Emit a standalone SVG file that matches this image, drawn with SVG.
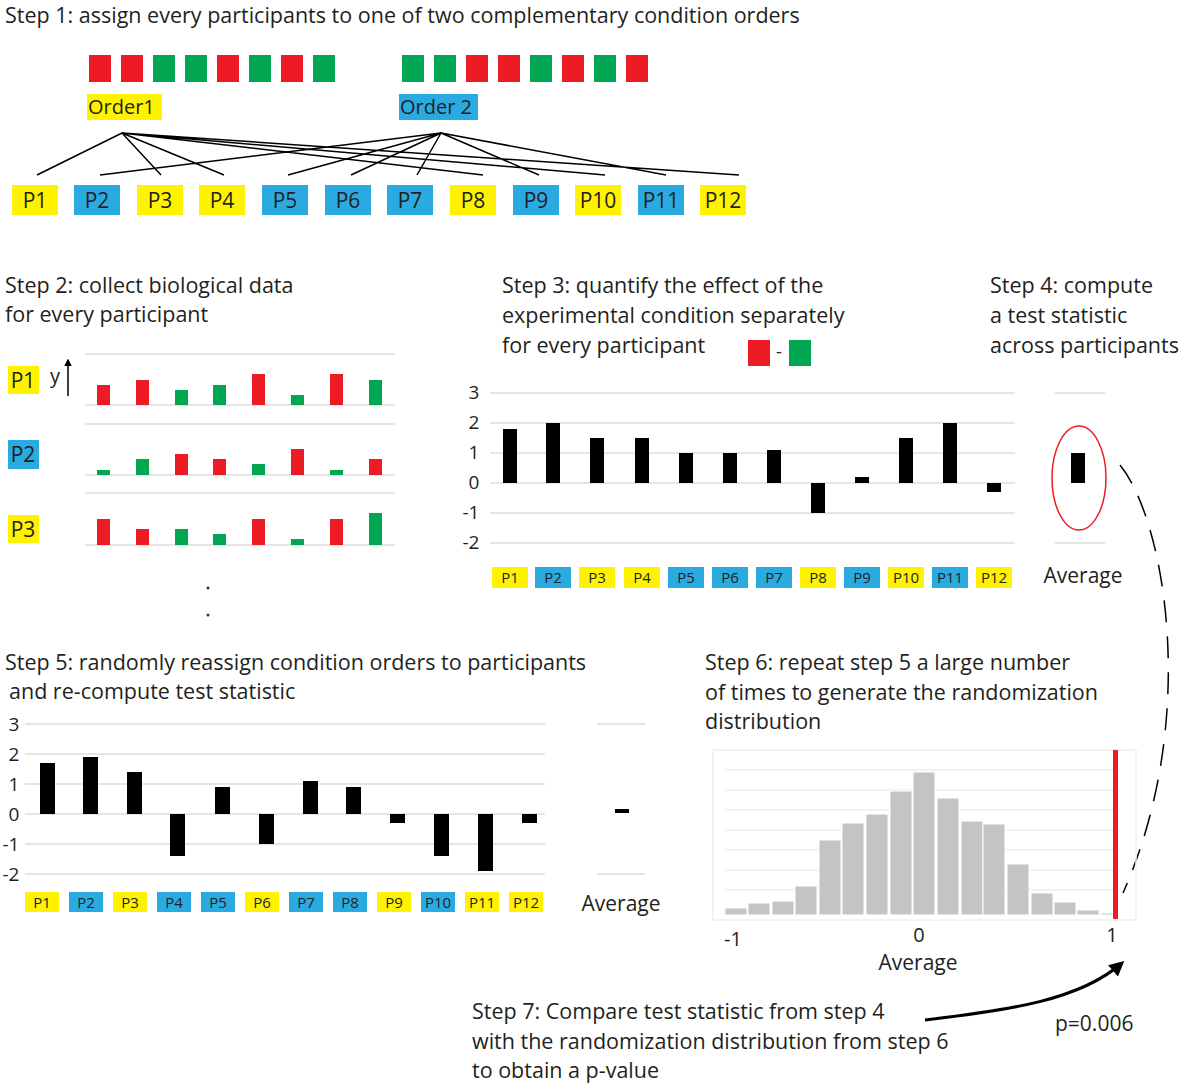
<svg xmlns="http://www.w3.org/2000/svg" width="1182" height="1086" viewBox="0 0 1182 1086">
<style>
text{font-family:"Open Sans","Liberation Sans",sans-serif;fill:#231f20}
.h{font-size:21.5px}
.r{fill:#ed1c24}.g{fill:#00a651}.y{fill:#fff200}.b{fill:#29abe2}
.k{fill:#000}
.gr{stroke:#ddd;stroke-width:1.5}
.pl{font-size:21px;text-anchor:middle}
.sl{font-size:15px;text-anchor:middle}
.ax{font-size:19px;text-anchor:middle}
.ln{stroke:#000;stroke-width:1.8;fill:none}
.hb{fill:#c4c4c4;stroke:#fff;stroke-width:1}
</style>
<defs><marker id="ah" viewBox="0 0 10 10" refX="8" refY="5" markerWidth="5" markerHeight="5" orient="auto"><path d="M0,0L10,5L0,10z" fill="#000"/></marker></defs>
<rect width="1182" height="1086" fill="#fff"/>

<g id="step1">
<text class="h" x="5" y="23">Step 1: assign every participants to one of two complementary condition orders</text>
<rect class="r" x="89" y="55" width="22" height="27"/><rect class="r" x="121" y="55" width="22" height="27"/><rect class="g" x="153" y="55" width="22" height="27"/><rect class="g" x="185" y="55" width="22" height="27"/><rect class="r" x="217" y="55" width="22" height="27"/><rect class="g" x="249" y="55" width="22" height="27"/><rect class="r" x="281" y="55" width="22" height="27"/><rect class="g" x="313" y="55" width="22" height="27"/>
<rect class="g" x="402" y="55" width="22" height="27"/><rect class="g" x="434" y="55" width="22" height="27"/><rect class="r" x="466" y="55" width="22" height="27"/><rect class="r" x="498" y="55" width="22" height="27"/><rect class="g" x="530" y="55" width="22" height="27"/><rect class="r" x="562" y="55" width="22" height="27"/><rect class="g" x="594" y="55" width="22" height="27"/><rect class="r" x="626" y="55" width="22" height="27"/>
<rect class="y" x="87" y="94" width="75" height="26"/><text x="88" y="114" style="font-size:20px">Order1</text>
<rect class="b" x="399" y="94" width="79" height="26"/><text x="400" y="114" style="font-size:20px">Order 2</text>
</g>
<g id="connectors">
<path class="ln" style="stroke-width:1.5" d="M122,133L37,175M122,133L161,175M122,133L224,175M122,133L483,175M122,133L605,175M122,133L739,175M441,133L100,175M441,133L288,175M441,133L351,175M441,133L417,175M441,133L539,175M441,133L666,175"/>
<path d="M1120,465C1165,520 1200,720 1123,893" fill="none" stroke="#000" stroke-width="1.5" stroke-dasharray="22,14"/>
<path d="M925,1020C1010,1010 1080,1000 1122,963" fill="none" stroke="#000" stroke-width="3" marker-end="url(#ah)"/>
</g>
<g id="plabels">
<rect class="y" x="12" y="185" width="46" height="30"/><text class="pl" x="35" y="208">P1</text>
<rect class="b" x="74" y="185" width="46" height="30"/><text class="pl" x="97" y="208">P2</text>
<rect class="y" x="137" y="185" width="46" height="30"/><text class="pl" x="160" y="208">P3</text>
<rect class="y" x="199" y="185" width="46" height="30"/><text class="pl" x="222" y="208">P4</text>
<rect class="b" x="262" y="185" width="46" height="30"/><text class="pl" x="285" y="208">P5</text>
<rect class="b" x="325" y="185" width="46" height="30"/><text class="pl" x="348" y="208">P6</text>
<rect class="b" x="387" y="185" width="46" height="30"/><text class="pl" x="410" y="208">P7</text>
<rect class="y" x="450" y="185" width="46" height="30"/><text class="pl" x="473" y="208">P8</text>
<rect class="b" x="513" y="185" width="46" height="30"/><text class="pl" x="536" y="208">P9</text>
<rect class="y" x="575" y="185" width="46" height="30"/><text class="pl" x="598" y="208">P10</text>
<rect class="b" x="638" y="185" width="46" height="30"/><text class="pl" x="661" y="208">P11</text>
<rect class="y" x="700" y="185" width="46" height="30"/><text class="pl" x="723" y="208">P12</text>
</g>

<g id="step2">
<text class="h" x="5" y="293">Step 2: collect biological data</text>
<text class="h" x="5" y="322">for every participant</text>
<path class="gr" d="M85,354H395M85,405H395M85,424H395M85,475H395M85,493H395M85,545H395"/>
<rect class="y" x="8" y="366" width="31" height="28"/><text class="pl" x="23" y="388">P1</text>
<rect class="b" x="8" y="440" width="31" height="29"/><text class="pl" x="23" y="462">P2</text>
<rect class="y" x="8" y="515" width="31" height="28"/><text class="pl" x="23" y="537">P3</text>
<text x="50" y="383" style="font-size:20px">y</text>
<path d="M68,396V360" stroke="#000" stroke-width="1.5" marker-end="url(#ah)"/>
<g>
<rect class="r" x="97" y="385" width="13" height="20"/><rect class="r" x="136" y="380" width="13" height="25"/><rect class="g" x="175" y="390" width="13" height="15"/><rect class="g" x="213" y="385" width="13" height="20"/><rect class="r" x="252" y="374" width="13" height="31"/><rect class="g" x="291" y="395" width="13" height="10"/><rect class="r" x="330" y="374" width="13" height="31"/><rect class="g" x="369" y="380" width="13" height="25"/>
<rect class="g" x="97" y="470" width="13" height="5"/><rect class="g" x="136" y="459" width="13" height="16"/><rect class="r" x="175" y="454" width="13" height="21"/><rect class="r" x="213" y="459" width="13" height="16"/><rect class="g" x="252" y="464" width="13" height="11"/><rect class="r" x="291" y="449" width="13" height="26"/><rect class="g" x="330" y="470" width="13" height="5"/><rect class="r" x="369" y="459" width="13" height="16"/>
<rect class="r" x="97" y="519" width="13" height="26"/><rect class="r" x="136" y="529" width="13" height="16"/><rect class="g" x="175" y="529" width="13" height="16"/><rect class="g" x="213" y="534" width="13" height="11"/><rect class="r" x="252" y="519" width="13" height="26"/><rect class="g" x="291" y="539" width="13" height="6"/><rect class="r" x="330" y="519" width="13" height="26"/><rect class="g" x="369" y="513" width="13" height="32"/>
</g>
<circle cx="208" cy="588" r="1.5" fill="#333"/><circle cx="208" cy="615" r="1.5" fill="#333"/>
</g>

<g id="step3">
<text class="h" x="502" y="293">Step 3: quantify the effect of the</text>
<text class="h" x="502" y="323">experimental condition separately</text>
<text class="h" x="502" y="353">for every participant</text>
<rect class="r" x="748" y="340" width="22" height="26"/><text x="779" y="358" style="font-size:18px;text-anchor:middle">-</text><rect class="g" x="789" y="340" width="22" height="26"/>
<path class="gr" d="M490,393H1015M490,423H1015M490,453H1015M490,483H1015M490,513H1015M490,543H1015"/>
<g class="ax"><text x="474" y="399">3</text><text x="474" y="429">2</text><text x="474" y="459">1</text><text x="474" y="489">0</text><text x="471" y="519">-1</text><text x="471" y="549">-2</text></g>
<g class="k">
<rect x="503" y="429" width="14" height="54"/><rect x="546" y="423" width="14" height="60"/><rect x="590" y="438" width="14" height="45"/><rect x="635" y="438" width="14" height="45"/><rect x="679" y="453" width="14" height="30"/><rect x="723" y="453" width="14" height="30"/><rect x="767" y="450" width="14" height="33"/><rect x="811" y="483" width="14" height="30"/><rect x="855" y="477" width="14" height="6"/><rect x="899" y="438" width="14" height="45"/><rect x="943" y="423" width="14" height="60"/><rect x="987" y="483" width="14" height="9"/>
</g>
<g>
<rect class="y" x="492" y="567" width="36" height="21"/><text class="sl" x="510" y="583">P1</text>
<rect class="b" x="535" y="567" width="36" height="21"/><text class="sl" x="553" y="583">P2</text>
<rect class="y" x="579" y="567" width="36" height="21"/><text class="sl" x="597" y="583">P3</text>
<rect class="y" x="624" y="567" width="36" height="21"/><text class="sl" x="642" y="583">P4</text>
<rect class="b" x="668" y="567" width="36" height="21"/><text class="sl" x="686" y="583">P5</text>
<rect class="b" x="712" y="567" width="36" height="21"/><text class="sl" x="730" y="583">P6</text>
<rect class="b" x="756" y="567" width="36" height="21"/><text class="sl" x="774" y="583">P7</text>
<rect class="y" x="800" y="567" width="36" height="21"/><text class="sl" x="818" y="583">P8</text>
<rect class="b" x="844" y="567" width="36" height="21"/><text class="sl" x="862" y="583">P9</text>
<rect class="y" x="888" y="567" width="36" height="21"/><text class="sl" x="906" y="583">P10</text>
<rect class="b" x="932" y="567" width="36" height="21"/><text class="sl" x="950" y="583">P11</text>
<rect class="y" x="976" y="567" width="36" height="21"/><text class="sl" x="994" y="583">P12</text>
</g>
</g>

<g id="step4">
<text class="h" x="990" y="293">Step 4: compute</text>
<text class="h" x="990" y="323">a test statistic</text>
<text class="h" x="990" y="353">across participants</text>
<path class="gr" d="M1055,393H1105M1055,543H1105"/>
<rect class="k" x="1071" y="453" width="14" height="30"/>
<ellipse cx="1079" cy="478" rx="27" ry="52" fill="none" stroke="#ed1c24" stroke-width="1.5"/>
<text x="1083" y="583" style="font-size:21px;text-anchor:middle">Average</text>
</g>

<g id="step5">
<text class="h" x="5" y="670">Step 5: randomly reassign condition orders to participants</text>
<text class="h" x="9" y="699">and re-compute test statistic</text>
<path class="gr" d="M25,724H545M25,754H545M25,784H545M25,814H545M25,844H545M25,874H545M597,724H645M597,874H645"/>
<g class="ax"><text x="14" y="731">3</text><text x="14" y="761">2</text><text x="14" y="791">1</text><text x="14" y="821">0</text><text x="11" y="851">-1</text><text x="11" y="881">-2</text></g>
<g class="k">
<rect x="40" y="763" width="15" height="51"/><rect x="83" y="757" width="15" height="57"/><rect x="127" y="772" width="15" height="42"/><rect x="170" y="814" width="15" height="42"/><rect x="215" y="787" width="15" height="27"/><rect x="259" y="814" width="15" height="30"/><rect x="303" y="781" width="15" height="33"/><rect x="346" y="787" width="15" height="27"/><rect x="390" y="814" width="15" height="9"/><rect x="434" y="814" width="15" height="42"/><rect x="478" y="814" width="15" height="57"/><rect x="522" y="814" width="15" height="9"/>
<rect x="615" y="809" width="14" height="4"/>
</g>
<g>
<rect class="y" x="25" y="892" width="34" height="20"/><text class="sl" x="42" y="908">P1</text>
<rect class="b" x="69" y="892" width="34" height="20"/><text class="sl" x="86" y="908">P2</text>
<rect class="y" x="113" y="892" width="34" height="20"/><text class="sl" x="130" y="908">P3</text>
<rect class="b" x="157" y="892" width="34" height="20"/><text class="sl" x="174" y="908">P4</text>
<rect class="b" x="201" y="892" width="34" height="20"/><text class="sl" x="218" y="908">P5</text>
<rect class="y" x="245" y="892" width="34" height="20"/><text class="sl" x="262" y="908">P6</text>
<rect class="b" x="289" y="892" width="34" height="20"/><text class="sl" x="306" y="908">P7</text>
<rect class="b" x="333" y="892" width="34" height="20"/><text class="sl" x="350" y="908">P8</text>
<rect class="y" x="377" y="892" width="34" height="20"/><text class="sl" x="394" y="908">P9</text>
<rect class="b" x="421" y="892" width="34" height="20"/><text class="sl" x="438" y="908">P10</text>
<rect class="y" x="465" y="892" width="34" height="20"/><text class="sl" x="482" y="908">P11</text>
<rect class="y" x="509" y="892" width="34" height="20"/><text class="sl" x="526" y="908">P12</text>
</g>
<text x="621" y="911" style="font-size:21px;text-anchor:middle">Average</text>
</g>

<g id="step6">
<text class="h" x="705" y="670">Step 6: repeat step 5 a large number</text>
<text class="h" x="705" y="700">of times to generate the randomization</text>
<text class="h" x="705" y="729">distribution</text>
<rect x="713" y="750" width="423" height="170" fill="none" stroke="#eee" stroke-width="1.5"/>
<path class="gr" style="stroke:#eee" d="M725,770H1120M725,790H1120M725,810H1120M725,830H1120M725,850H1120M725,870H1120M725,890H1120"/>
<g>
<rect class="hb" x="725" y="908" width="22" height="7"/><rect class="hb" x="748" y="903" width="22" height="12"/><rect class="hb" x="772" y="901" width="22" height="14"/><rect class="hb" x="795" y="886" width="22" height="29"/><rect class="hb" x="819" y="840" width="22" height="75"/><rect class="hb" x="842" y="823" width="22" height="92"/><rect class="hb" x="866" y="814" width="22" height="101"/><rect class="hb" x="890" y="791" width="22" height="124"/><rect class="hb" x="913" y="772" width="22" height="143"/><rect class="hb" x="937" y="798" width="22" height="117"/><rect class="hb" x="961" y="821" width="22" height="94"/><rect class="hb" x="983" y="824" width="22" height="91"/><rect class="hb" x="1007" y="864" width="22" height="51"/><rect class="hb" x="1031" y="893" width="22" height="22"/><rect class="hb" x="1054" y="902" width="22" height="13"/><rect class="hb" x="1077" y="910" width="22" height="5"/><rect class="hb" x="1101" y="913" width="12" height="2"/>
</g>
<rect x="1113" y="750" width="5" height="169" fill="#ed1c24"/>
<g class="ax" style="font-size:20px"><text x="733" y="946">-1</text><text x="919" y="942">0</text><text x="1112" y="942">1</text></g>
<text x="918" y="970" style="font-size:21px;text-anchor:middle">Average</text>
</g>

<g id="step7">
<text class="h" x="472" y="1019">Step 7: Compare test statistic from step 4</text>
<text class="h" x="472" y="1049">with the randomization distribution from step 6</text>
<text class="h" x="472" y="1078">to obtain a p-value</text>
<text x="1055" y="1031" style="font-size:21px">p=0.006</text>
</g>
</svg>
